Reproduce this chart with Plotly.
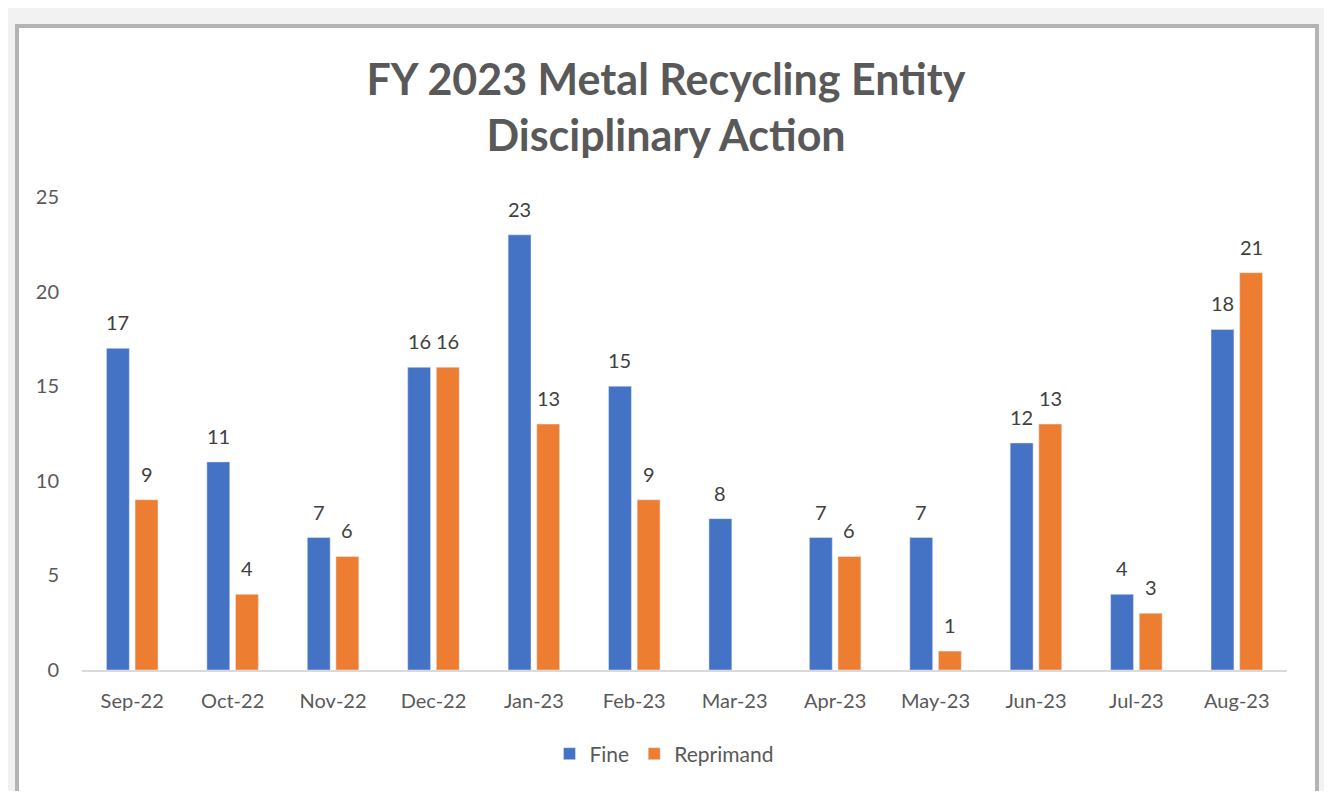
import plotly.graph_objects as go

months = ["Sep-22", "Oct-22", "Nov-22", "Dec-22", "Jan-23", "Feb-23",
          "Mar-23", "Apr-23", "May-23", "Jun-23", "Jul-23", "Aug-23"]
fine = [17, 11, 7, 16, 23, 15, 8, 7, 7, 12, 4, 18]
reprimand = [9, 4, 6, 16, 13, 9, None, 6, 1, 13, 3, 21]
y_ticks = [0, 5, 10, 15, 20, 25]

FINE_C = "#4472C4"
REP_C = "#ED7D31"
TXT = "#595959"
FONT = "Lato, 'Open Sans', sans-serif"

# page body has an 8px margin; figure coordinates = screen - 8
OFF = 8
W, H = 1316, 783
L, R, T, B = 82 - OFF, W - (1287 - OFF), 197 - OFF, H - (670 - OFF)
pw, ph = W - L - R, H - T - B

fig = go.Figure()
fig.add_trace(go.Bar(name="Fine", x=months, y=fine, marker_color=FINE_C))
fig.add_trace(go.Bar(name="Reprimand", x=months, y=reprimand, marker_color=REP_C))

cat_w = pw / len(months)
bargap = 0.43
slot = cat_w * (1 - bargap) / 2
annotations = []
for series, shift in ((fine, -slot / 2), (reprimand, slot / 2)):
    for m, v in zip(months, series):
        if v is None:
            continue
        annotations.append(dict(x=m, y=v, xref="x", yref="y", text=str(v),
                                showarrow=False, xshift=shift, yshift=12,
                                yanchor="bottom",
                                font=dict(size=20, color="#404040", family=FONT)))

def px_x(p):
    return (p - OFF - L) / pw

def px_y(p):
    return (H - B - (p - OFF)) / ph

shapes = [dict(type="rect", xref="paper", yref="paper",
               x0=px_x(17), x1=px_x(1317), y0=px_y(794), y1=px_y(26),
               fillcolor="white", line=dict(color="#b4b4b4", width=4), layer="below")]

fig.update_layout(
    width=W, height=H,
    margin=dict(l=L, r=R, t=T, b=B),
    paper_bgcolor="#f2f2f2", plot_bgcolor="rgba(0,0,0,0)",
    barmode="group", bargap=bargap, bargroupgap=0.2,
    font=dict(family=FONT, color=TXT, size=20),
    title=dict(text="<b>FY 2023 Metal Recycling Entity<br>Disciplinary Action</b>",
               x=(666 - OFF) / W, xanchor="center", xref="container",
               y=1 - (95 - OFF) / H, yref="container",
               yanchor="middle", font=dict(size=43, color=TXT, family=FONT)),
    showlegend=True,
    legend=dict(orientation="h", x=px_x(664), xanchor="center", y=px_y(754), yanchor="middle",
                font=dict(size=21, color=TXT), bgcolor="rgba(0,0,0,0)", itemwidth=30),
    annotations=annotations,
    shapes=shapes,
)
fig.update_xaxes(showgrid=False, showline=True, linecolor="#d9d9d9", linewidth=2,
                 ticks="", ticklabelstandoff=12, tickfont=dict(size=20, color=TXT))
fig.update_yaxes(range=[0, 25], tickvals=y_ticks, showgrid=False, zeroline=False,
                 showline=False, ticks="", ticklabelstandoff=22,
                 tickfont=dict(size=20, color=TXT))

fig.write_html("out.html")
